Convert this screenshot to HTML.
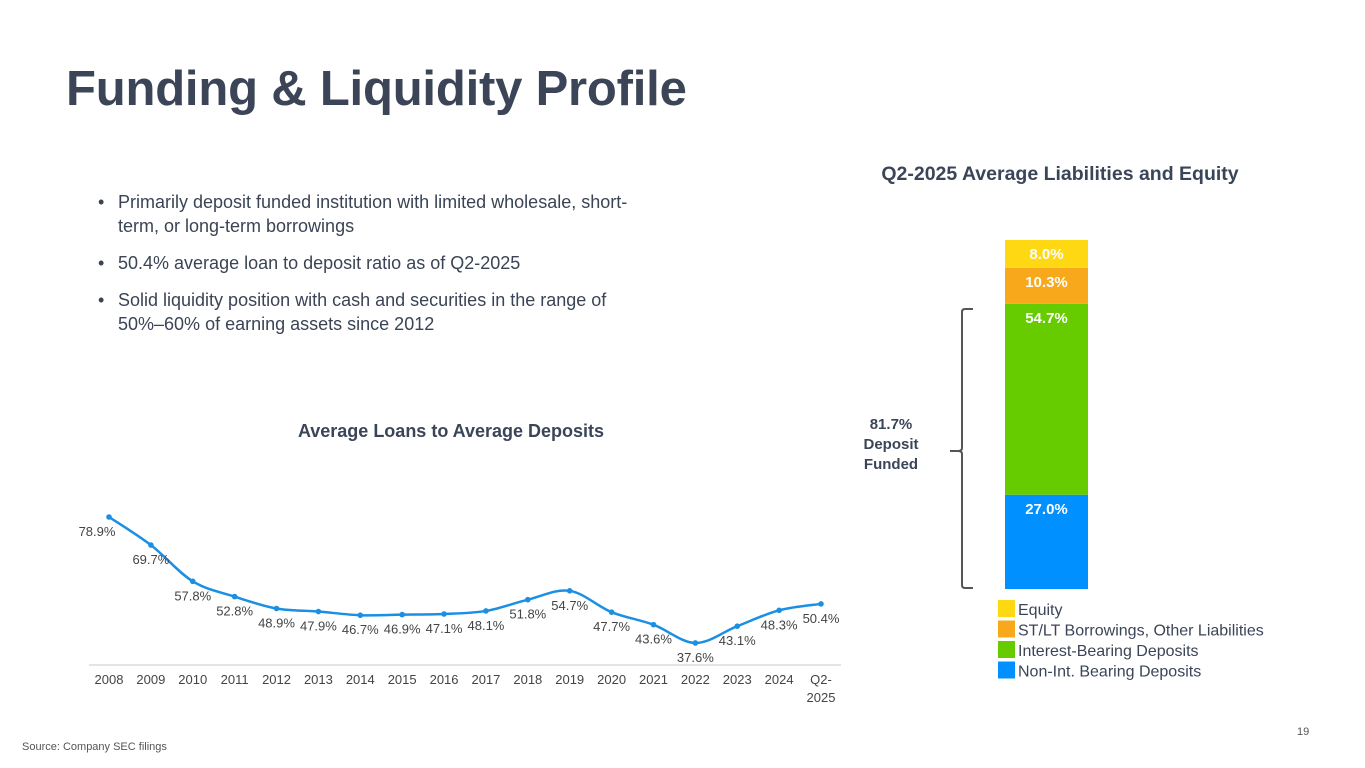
<!DOCTYPE html>
<html><head><meta charset="utf-8"><style>
body{margin:0;width:1365px;height:768px;background:#fff;font-family:"Liberation Sans",sans-serif;color:#3b4558;position:relative;overflow:hidden}
.abs{position:absolute}
h1{position:absolute;left:66px;top:61px;margin:0;font-size:49px;font-weight:bold;color:#3b4557;letter-spacing:-0.2px}
ul{position:absolute;left:98px;top:190px;margin:0;padding:0;width:562px;font-size:18px;color:#3a4455;line-height:24px;list-style:none}
li{position:relative;padding-left:20px;margin-bottom:13px}
li:before{content:"•";position:absolute;left:0}
</style></head><body>
<h1>Funding &amp; Liquidity Profile</h1>
<ul>
<li>Primarily deposit funded institution with limited wholesale, short-term, or long-term borrowings</li>
<li>50.4% average loan to deposit ratio as of Q2-2025</li>
<li>Solid liquidity position with cash and securities in the range of <span style="white-space:nowrap">50%–60%</span> of earning assets since 2012</li>
</ul>
<svg id="chart" class="abs" style="left:0;top:0" width="1365" height="768"></svg>
<div class="abs" style="left:22px;top:741px;font-size:11px;color:#555">Source: Company SEC filings</div>
<div class="abs" style="left:1297px;top:726px;font-size:11px;color:#555">19</div>
<script>
const years=["2008","2009","2010","2011","2012","2013","2014","2015","2016","2017","2018","2019","2020","2021","2022","2023","2024","Q2-|2025"];
const ratios=[78.9,69.7,57.8,52.8,48.9,47.9,46.7,46.9,47.1,48.1,51.8,54.7,47.7,43.6,37.6,43.1,48.3,50.4];
const segNames=["Non-Int. Bearing Deposits","Interest-Bearing Deposits","ST/LT Borrowings, Other Liabilities","Equity"];
const segValues=[27.0,54.7,10.3,8.0];
const segColors=["#0090ff","#66cc00","#f7a81b","#ffd814"];
const NS="http://www.w3.org/2000/svg";
const svg=document.getElementById('chart');
function mk(t,a,txt){const e=document.createElementNS(NS,t);for(const k in a)e.setAttribute(k,a[k]);if(txt!=null)e.textContent=txt;svg.appendChild(e);return e;}
const x0=109,dx=(821-109)/(years.length-1);
const xs=i=>x0+i*dx, ys=v=>517+(78.9-v)*3.05;
let t=mk('text',{x:451,y:437,'text-anchor':'middle','font-size':18,'font-weight':'bold',fill:'#3b4558'},'Average Loans to Average Deposits');


let ax=mk('line',{x1:89,x2:841,y1:665,y2:665,stroke:'#c8c8c8','stroke-width':1});


const pts=ratios.map((v,i)=>[xs(i),ys(v)]);
let d='M'+pts[0][0]+','+pts[0][1];
for(let i=0;i<pts.length-1;i++){const p0=pts[i-1]||pts[i],p1=pts[i],p2=pts[i+1],p3=pts[i+2]||p2;
d+=` C${p1[0]+(p2[0]-p0[0])/6},${p1[1]+(p2[1]-p0[1])/6} ${p2[0]-(p3[0]-p1[0])/6},${p2[1]-(p3[1]-p1[1])/6} ${p2[0]},${p2[1]}`;}
let ln=mk('path',{d:d,fill:'none',stroke:'#1a8fe3','stroke-width':2.5});


ratios.forEach((v,i)=>{
 let c=mk('circle',{cx:xs(i),cy:ys(v),r:2.8,fill:'#1a8fe3'});
 
 
 let l=mk('text',{x:xs(i)+(i==0?-12:0),y:ys(v)+19,'text-anchor':'middle','font-size':13,fill:'#444'},v.toFixed(1)+'%');
 
 
 const parts=years[i].split('|');
 parts.forEach((p,j)=>{let tk=mk('text',{x:xs(i),y:684+j*18,'text-anchor':'middle','font-size':13,fill:'#444'},p);
 
 });
});
let rt=mk('text',{x:1060,y:180,'text-anchor':'middle','font-size':19.5,'font-weight':'bold',fill:'#3b4558'},'Q2-2025 Average Liabilities and Equity');


const bTop=240,bBot=589,bx=1005,bw=83,tot=segValues.reduce((a,b)=>a+b,0);
let yb=bBot;
segValues.forEach((v,i)=>{const h=v/tot*(bBot-bTop);yb-=h;
 let r=mk('rect',{x:bx,y:yb,width:bw,height:h,fill:segColors[i]});
 
 
 let l=mk('text',{x:bx+bw/2,y:yb+19,'text-anchor':'middle','font-size':15,'font-weight':'bold',fill:'#fff'},v.toFixed(1)+'%');
 
 
 const li=3-i;
 let sq=mk('rect',{x:998,y:600+li*20.5,width:17,height:17,fill:segColors[i]});
 
 
 let lt=mk('text',{x:1018,y:615+li*20.5,'font-size':16,fill:'#3b4558'},segNames[i]);
 
 
});
let br=mk('path',{d:'M973,309 L965,309 Q962,309 962,312 L962,448 Q962,451 958,451 L950,451 M958,451 Q962,451 962,454 L962,585 Q962,588 965,588 L973,588',fill:'none',stroke:'#555','stroke-width':2});


['81.7%','Deposit','Funded'].forEach((s,j)=>{let tt=mk('text',{x:891,y:429+j*20,'text-anchor':'middle','font-size':15,'font-weight':'bold',fill:'#3b4558'},s);

});
</script>
</body></html>
